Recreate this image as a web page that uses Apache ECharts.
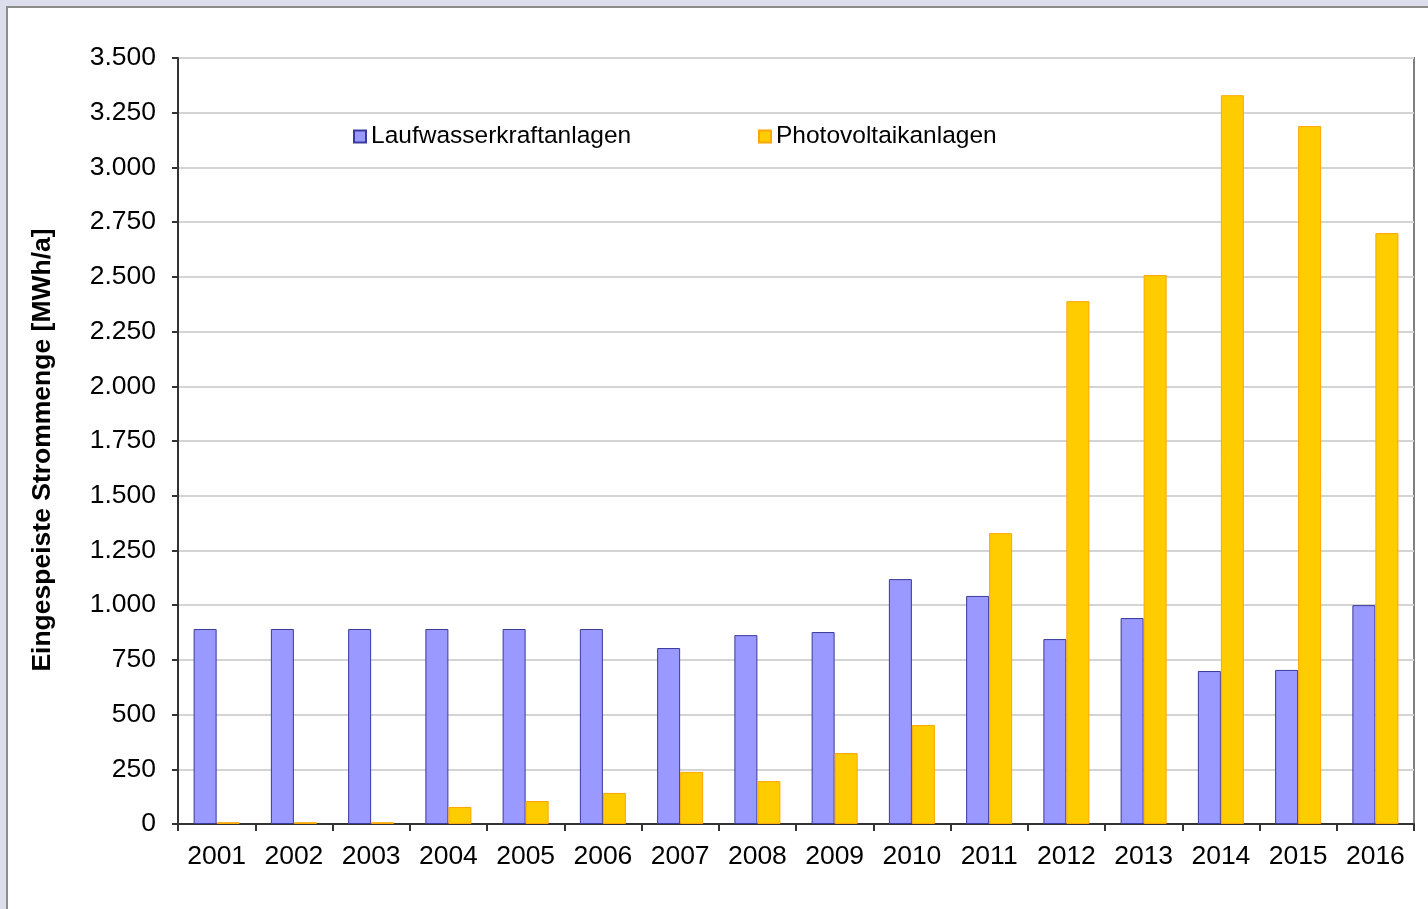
<!DOCTYPE html>
<html>
<head>
<meta charset="utf-8">
<script src="https://cdn.jsdelivr.net/npm/echarts@6/dist/echarts.min.js"></script>
<style>
html,body{margin:0;padding:0;background:#ffffff;}
#chart{width:1428px;height:909px;}
</style>
</head>
<body>
<div id="chart"></div>
<script>
const years = ['2001','2002','2003','2004','2005','2006','2007','2008','2009','2010','2011','2012','2013','2014','2015','2016'];
const laufwasser = [891, 891, 891, 891, 891, 891, 804, 863, 877, 1119, 1042, 845, 941, 699, 704, 1000];
const photovoltaik = [8, 8, 8, 78, 105, 142, 238, 196, 324, 452, 1329, 2389, 2508, 3330, 3189, 2700];
const seriesNames = ['Laufwasserkraftanlagen', 'Photovoltaikanlagen'];
const yAxisTitle = 'Eingespeiste Strommenge [MWh/a]';

function fmt(v){
  return String(v).replace(/\B(?=(\d{3})+(?!\d))/g, '.');
}

const chart = echarts.init(document.getElementById('chart'), null, {renderer:'canvas'});
const font = '"Liberation Sans", Arial, sans-serif';
chart.setOption({
  animation: false,
  backgroundColor: '#ffffff',
  textStyle: {fontFamily: font},
  graphic: [
    {type:'rect', shape:{x:0,y:0,width:1428,height:7}, style:{fill:'#dcdfeb'}, silent:true},
    {type:'rect', shape:{x:0,y:0,width:7,height:909}, style:{fill:'#dcdfeb'}, silent:true},
    {type:'rect', shape:{x:6,y:6,width:1422,height:2}, style:{fill:'#8c8c8c'}, silent:true},
    {type:'rect', shape:{x:6,y:6,width:2,height:903}, style:{fill:'#8c8c8c'}, silent:true}
  ],
  legend: [
    {data:[seriesNames[0]], left:348, top:119, itemWidth:12, itemHeight:12, icon:'rect',
     textStyle:{fontSize:24.5, color:'#000', fontFamily:font}},
    {data:[seriesNames[1]], left:753, top:119, itemWidth:12, itemHeight:12, icon:'rect',
     textStyle:{fontSize:24.5, color:'#000', fontFamily:font}}
  ],
  grid: {left:178, right:14, top:58, bottom:85, show:true, borderColor:'#808080', borderWidth:2, backgroundColor:'transparent'},
  xAxis: {
    type:'category', data: years,
    axisLine:{lineStyle:{color:'#333', width:2}},
    axisTick:{show:true, length:7, lineStyle:{color:'#333', width:2}},
    axisLabel:{fontSize:26.5, color:'#000', margin:19, fontFamily:font}
  },
  yAxis: {
    type:'value', min:0, max:3500, interval:250,
    name: yAxisTitle, nameLocation:'middle', nameGap:122,
    nameTextStyle:{fontSize:26.5, fontWeight:'bold', color:'#000', fontFamily:font, padding:[0,18,0,0]},
    axisLine:{show:true, lineStyle:{color:'#333', width:2}},
    axisTick:{show:true, length:6, lineStyle:{color:'#333', width:2}},
    axisLabel:{fontSize:26.5, color:'#000', margin:22, formatter: v => fmt(v), fontFamily:font, padding:[4,0,0,0]},
    splitLine:{lineStyle:{color:'#d4d4d4', width:2}}
  },
  series: [
    {name: seriesNames[0], type:'bar', data: laufwasser, barWidth:23, barGap:'0%',
     itemStyle:{color:'#9999ff', borderColor:'#3a3a9c', borderWidth:1}},
    {name: seriesNames[1], type:'bar', data: photovoltaik, barWidth:23, barGap:'0%',
     itemStyle:{color:'#ffcc00', borderColor:'#ffa500', borderWidth:1}}
  ]
});
</script>
</body>
</html>
